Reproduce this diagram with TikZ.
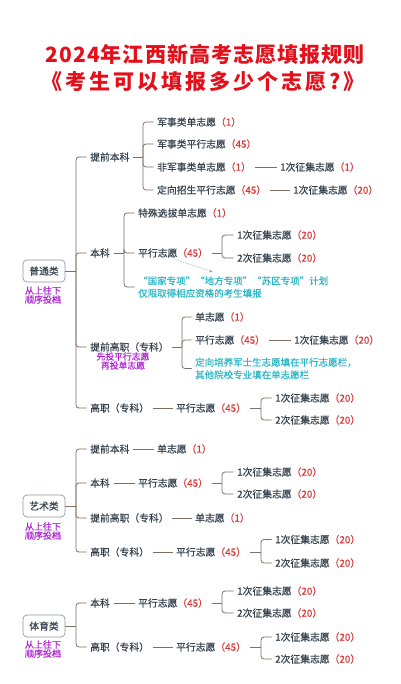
\documentclass[tikz,border=0pt]{standalone}
\usepackage{fontspec}
\setmainfont{Noto Sans CJK SC}
\newfontfamily\cjkm{Noto Sans CJK SC}[FakeBold=0.45]
\usetikzlibrary{arrows.meta}
\definecolor{txt}{HTML}{36424E}
\definecolor{rd}{HTML}{D63B3B}
\definecolor{ttl}{HTML}{E3101B}
\definecolor{cy}{HTML}{2BB6C6}
\definecolor{pu}{HTML}{B020D6}
\definecolor{lnc}{HTML}{7F6E60}
\definecolor{bxc}{HTML}{8E9BA6}
\newcommand\nm[1]{\textcolor{rd}{（#1）}}
\newcommand\branch[3]{%
  \coordinate (bxp) at (#2,0);
  \draw[lk] (#1.east) -- (bxp |- #1.east);
  \foreach \c in {#3}{\draw[brk] (bxp |- #1.east) |- (\c.west);}}
\begin{document}
\begin{tikzpicture}[x=1pt,y=-1pt,
  t/.style={anchor=west,inner xsep=3.5pt,inner ysep=1pt,text=txt,font=\cjkm\fontsize{9.8}{11}\selectfont},
  cat/.style={draw=bxc,fill=white,rounded corners=4pt,line width=0.7pt,minimum width=42pt,minimum height=22pt,inner sep=0pt,text=txt,font=\cjkm\fontsize{9.8}{11}\selectfont},
  note/.style={align=center,text=pu,font=\cjkm\fontsize{9}{9}\selectfont,inner sep=0pt},
  cyn/.style={anchor=west,align=left,text=cy,font=\cjkm\fontsize{9.5}{12.5}\selectfont,inner xsep=3.5pt,inner ysep=0pt},
  lk/.style={draw=lnc,line width=0.8pt},
  brk/.style={lk,rounded corners=3pt},
  ttlf/.style={text=ttl,inner sep=0pt}]
\useasboundingbox (0,0) rectangle (400,684);
\fill[white] (0,0) rectangle (400,684);

\node[ttlf,font=\fontsize{21}{21}\selectfont\bfseries\addfontfeature{LetterSpace=5}] (t1) at (205,55) {2024年江西新高考志愿填报规则};
\node[ttlf,font=\fontsize{21}{21}\selectfont\bfseries\addfontfeature{LetterSpace=14}] (t2) at (203,82) {《考生可以填报多少个志愿?》};

% ===== 普通类
\node[cat] (pt) at (44,271) {普通类};
\node[note] (ptn) at (43,295) {从上往下\\顺序投档};
\node[t] (a1) at (86.5,157) {提前本科};
\node[t] (a2) at (86.5,253) {本科};
\node[t] (a3) at (86.5,347) {提前高职（专科）};
\node[note,font=\cjkm\fontsize{8.8}{9}\selectfont] (a3n) at (123,361) {先投平行志愿\\再投单志愿};
\node[t] (a4) at (86.5,408) {高职（专科）};
\branch{pt}{76}{a1,a2,a3,a4}

\node[t] (b1) at (153.5,122) {军事类单志愿\nm{1}};
\node[t] (b2) at (153.5,144) {军事类平行志愿\nm{45}};
\node[t] (b3) at (153.5,167) {非军事类单志愿\nm{1}};
\node[t] (b4) at (153.5,190) {定向招生平行志愿\nm{45}};
\branch{a1}{143}{b1,b2,b3,b4}
\node[t] (b3a) at (276.5,167) {1次征集志愿\nm{1}};
\node[t] (b4a) at (289.5,190) {1次征集志愿\nm{20}};
\draw[lk] (b3.east) -- (b3a.west);
\draw[lk] (b4.east) -- (b4a.west);

\node[t] (c1) at (134.5,213) {特殊选拔单志愿\nm{1}};
\node[t] (c2) at (134.5,253) {平行志愿\nm{45}};
\node[cyn] (c3) at (134.5,287) {“国家专项”“地方专项”“苏区专项”计划\\仅限取得相应资格的考生填报};
\branch{a2}{124}{c1,c2,c3}
\node[t] (c21) at (233.5,235) {1次征集志愿\nm{20}};
\node[t] (c22) at (233.5,258) {2次征集志愿\nm{20}};
\branch{c2}{222}{c21,c22}
\coordinate (arr) at (213,272);
\draw[draw=gray!70,line width=0.4pt,dash pattern=on 1.5pt off 1pt,-{Stealth[length=4pt,width=3pt]}] (c2.south) -- (arr);

\node[t] (d1) at (191.5,317) {单志愿\nm{1}};
\node[t] (d2) at (191.5,340) {平行志愿\nm{45}};
\node[cyn] (d3) at (191.5,368.5) {定向培养军士生志愿填在平行志愿栏，\\其他院校专业填在单志愿栏};
\branch{a3}{182}{d1,d2,d3}
\node[t] (d2a) at (290.5,340) {1次征集志愿\nm{20}};
\draw[lk] (d2.east) -- (d2a.west);

\node[t] (e1) at (172.5,408) {平行志愿\nm{45}};
\draw[lk] (a4.east) -- (e1.west);
\node[t] (e11) at (271.5,398) {1次征集志愿\nm{20}};
\node[t] (e12) at (271.5,420) {2次征集志愿\nm{20}};
\branch{e1}{261}{e11,e12}

% ===== 艺术类
\node[cat] (ys) at (44,506) {艺术类};
\node[note] (ysn) at (43,531) {从上往下\\顺序投档};
\node[t] (f1) at (86.5,449) {提前本科};
\node[t] (f2) at (86.5,483) {本科};
\node[t] (f3) at (86.5,518) {提前高职（专科）};
\node[t] (f4) at (86.5,552) {高职（专科）};
\branch{ys}{76}{f1,f2,f3,f4}
\node[t] (f1a) at (153.5,449) {单志愿\nm{1}};
\node[t] (f2a) at (134.5,483) {平行志愿\nm{45}};
\node[t] (f3a) at (191.5,518) {单志愿\nm{1}};
\node[t] (f4a) at (172.5,552) {平行志愿\nm{45}};
\draw[lk] (f1.east) -- (f1a.west);
\draw[lk] (f2.east) -- (f2a.west);
\draw[lk] (f3.east) -- (f3a.west);
\draw[lk] (f4.east) -- (f4a.west);
\node[t] (f21) at (233.5,472) {1次征集志愿\nm{20}};
\node[t] (f22) at (233.5,494) {2次征集志愿\nm{20}};
\branch{f2a}{222}{f21,f22}
\node[t] (f41) at (271.5,539.5) {1次征集志愿\nm{20}};
\node[t] (f42) at (271.5,563) {2次征集志愿\nm{20}};
\branch{f4a}{261}{f41,f42}

% ===== 体育类
\node[cat] (ty) at (44,626) {体育类};
\node[note] (tyn) at (43,649) {从上往下\\顺序投档};
\node[t] (h1) at (86.5,603) {本科};
\node[t] (h2) at (86.5,647) {高职（专科）};
\branch{ty}{76}{h1,h2}
\node[t] (h1a) at (134.5,603) {平行志愿\nm{45}};
\node[t] (h2a) at (172.5,647) {平行志愿\nm{45}};
\draw[lk] (h1.east) -- (h1a.west);
\draw[lk] (h2.east) -- (h2a.west);
\node[t] (h11) at (233.5,591) {1次征集志愿\nm{20}};
\node[t] (h12) at (233.5,613) {2次征集志愿\nm{20}};
\branch{h1a}{222}{h11,h12}
\node[t] (h21) at (271.5,637) {1次征集志愿\nm{20}};
\node[t] (h22) at (271.5,659) {2次征集志愿\nm{20}};
\branch{h2a}{261}{h21,h22}
\end{tikzpicture}
\end{document}
